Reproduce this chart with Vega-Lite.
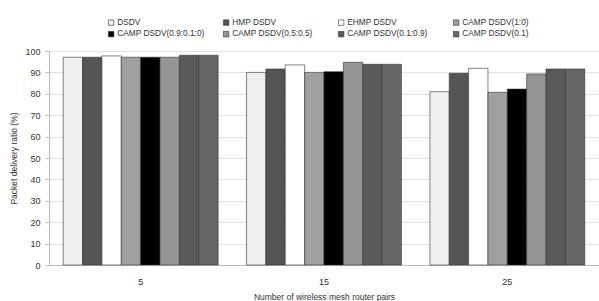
{
  "$schema": "https://vega.github.io/schema/vega-lite/v6.json",
  "width": 550,
  "height": 214,
  "autosize": {"type": "none"},
  "padding": {"left": 49, "top": 51, "right": 0, "bottom": 36},
  "background": "white",
  "config": {"font": "Liberation Sans", "view": {"stroke": null}},
  "data": {"values": [
    {"pairs": "5", "protocol": "DSDV", "pdr": 97.1},
    {"pairs": "5", "protocol": "HMP DSDV", "pdr": 97.1},
    {"pairs": "5", "protocol": "EHMP DSDV", "pdr": 97.7},
    {"pairs": "5", "protocol": "CAMP DSDV(1:0)", "pdr": 97.1},
    {"pairs": "5", "protocol": "CAMP DSDV(0.9:0.1:0)", "pdr": 97.1},
    {"pairs": "5", "protocol": "CAMP DSDV(0.5:0.5)", "pdr": 97.1},
    {"pairs": "5", "protocol": "CAMP DSDV(0.1:0.9)", "pdr": 98.0},
    {"pairs": "5", "protocol": "CAMP DSDV(0.1)", "pdr": 98.0},
    {"pairs": "15", "protocol": "DSDV", "pdr": 90.0},
    {"pairs": "15", "protocol": "HMP DSDV", "pdr": 91.6},
    {"pairs": "15", "protocol": "EHMP DSDV", "pdr": 93.5},
    {"pairs": "15", "protocol": "CAMP DSDV(1:0)", "pdr": 90.0},
    {"pairs": "15", "protocol": "CAMP DSDV(0.9:0.1:0)", "pdr": 90.3},
    {"pairs": "15", "protocol": "CAMP DSDV(0.5:0.5)", "pdr": 94.7},
    {"pairs": "15", "protocol": "CAMP DSDV(0.1:0.9)", "pdr": 93.8},
    {"pairs": "15", "protocol": "CAMP DSDV(0.1)", "pdr": 93.8},
    {"pairs": "25", "protocol": "DSDV", "pdr": 81.0},
    {"pairs": "25", "protocol": "HMP DSDV", "pdr": 89.6},
    {"pairs": "25", "protocol": "EHMP DSDV", "pdr": 91.9},
    {"pairs": "25", "protocol": "CAMP DSDV(1:0)", "pdr": 80.7},
    {"pairs": "25", "protocol": "CAMP DSDV(0.9:0.1:0)", "pdr": 82.2},
    {"pairs": "25", "protocol": "CAMP DSDV(0.5:0.5)", "pdr": 89.3},
    {"pairs": "25", "protocol": "CAMP DSDV(0.1:0.9)", "pdr": 91.6},
    {"pairs": "25", "protocol": "CAMP DSDV(0.1)", "pdr": 91.6}
  ]},
  "mark": {"type": "bar", "stroke": "#333", "strokeWidth": 0.6},
  "encoding": {
    "x": {
      "field": "pairs", "type": "nominal", "sort": ["5", "15", "25"],
      "scale": {"paddingInner": 0.155, "paddingOuter": 0.0775},
      "axis": {
        "title": "Number of wireless mesh router pairs",
        "labelAngle": 0, "ticks": false, "domainColor": "#bbb",
        "labelPadding": 12, "titlePadding": 6,
        "labelFontSize": 9, "titleFontSize": 8.5,
        "labelColor": "#333", "titleColor": "#333", "titleFontWeight": "normal"
      }
    },
    "xOffset": {
      "field": "protocol", "type": "nominal",
      "sort": ["DSDV", "HMP DSDV", "EHMP DSDV", "CAMP DSDV(1:0)", "CAMP DSDV(0.9:0.1:0)", "CAMP DSDV(0.5:0.5)", "CAMP DSDV(0.1:0.9)", "CAMP DSDV(0.1)"],
      "scale": {"paddingInner": 0, "paddingOuter": 0}
    },
    "y": {
      "field": "pdr", "type": "quantitative",
      "scale": {"domain": [0, 100], "nice": false},
      "axis": {
        "title": "Packet delivery ratio (%)",
        "values": [0, 10, 20, 30, 40, 50, 60, 70, 80, 90, 100],
        "grid": true, "gridColor": "#e2e2e2", "domainColor": "#bbb",
        "tickColor": "#bbb", "tickSize": 4, "labelPadding": 5,
        "labelFontSize": 9, "titleFontSize": 8.5, "titlePadding": 6,
        "labelColor": "#333", "titleColor": "#333", "titleFontWeight": "normal"
      }
    },
    "fill": {
      "field": "protocol", "type": "nominal",
      "scale": {
        "domain": ["DSDV", "HMP DSDV", "EHMP DSDV", "CAMP DSDV(1:0)", "CAMP DSDV(0.9:0.1:0)", "CAMP DSDV(0.5:0.5)", "CAMP DSDV(0.1:0.9)", "CAMP DSDV(0.1)"],
        "range": ["#efefef", "#555555", "#ffffff", "#a0a0a0", "#000000", "#959595", "#5a5a5a", "#666666"]
      },
      "legend": {
        "title": null, "orient": "none", "legendX": 58, "legendY": -33,
        "direction": "horizontal",
        "columns": 4, "gridAlign": "all", "symbolType": "square",
        "symbolSize": 30, "symbolStrokeColor": "#333", "symbolStrokeWidth": 0.6,
        "labelFontSize": 8.3, "labelColor": "#333", "labelOffset": 2,
        "rowPadding": 2, "columnPadding": 17, "labelLimit": 200
      }
    }
  }
}
